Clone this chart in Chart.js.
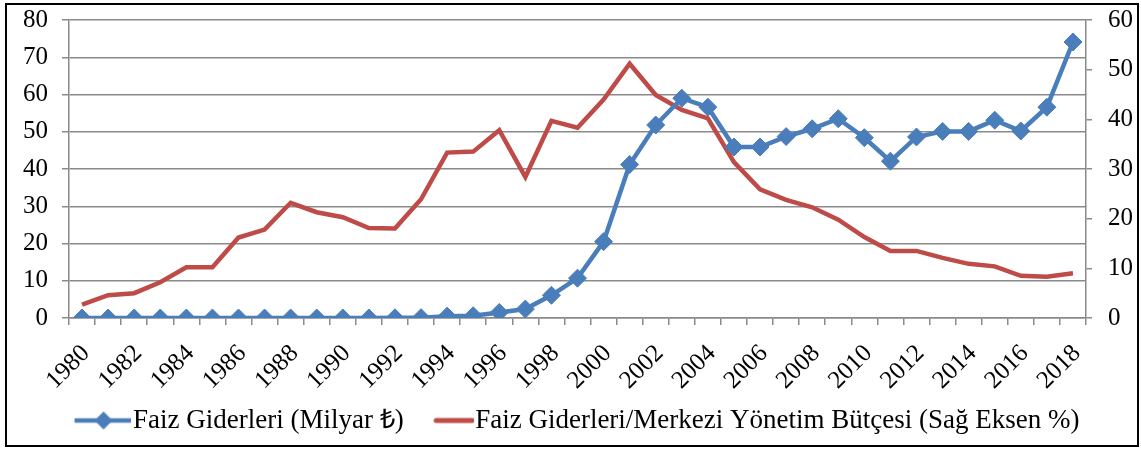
<!DOCTYPE html>
<html>
<head>
<meta charset="utf-8">
<script src="https://cdn.jsdelivr.net/npm/chart.js@4/dist/chart.umd.min.js"></script>
<style>
html,body{margin:0;padding:0;background:#fff;}
#wrap{width:1141px;height:450px;position:relative;}
</style>
</head>
<body>
<div id="wrap"><canvas id="c" width="1141" height="450"></canvas></div>
<script>
const years = [1980,1981,1982,1983,1984,1985,1986,1987,1988,1989,1990,1991,1992,1993,1994,1995,1996,1997,1998,1999,2000,2001,2002,2003,2004,2005,2006,2007,2008,2009,2010,2011,2012,2013,2014,2015,2016,2017,2018];
const faizGiderleri = [0,0,0,0,0,0,0,0,0,0,0,0,0.05,0.1,0.5,0.6,1.5,2.4,6.1,10.7,20.5,41.2,51.8,59.0,56.6,45.9,45.9,48.7,50.8,53.5,48.4,42.1,48.6,50.1,50.1,53.1,50.2,56.6,74.1];
const faizButcePay = [2.7,4.6,5.0,7.2,10.2,10.2,16.2,17.8,23.2,21.3,20.3,18.1,18.0,23.9,33.3,33.5,37.8,28.4,39.7,38.3,44.0,51.2,44.9,41.9,40.2,31.4,25.9,23.8,22.3,19.8,16.3,13.5,13.5,12.1,10.9,10.4,8.5,8.3,9.0];
const leftTicks = [0,10,20,30,40,50,60,70,80];
const rightTicks = [0,10,20,30,40,50,60];
const seriesNames = ['Faiz Giderleri (Milyar ₺)','Faiz Giderleri/Merkezi Yönetim Bütçesi (Sağ Eksen %)'];

const BLUE = '#4a7ebb';
const RED = '#be4b48';
const GRID = '#8a8a8a';
const FONT = "'Liberation Serif', 'Times New Roman', serif";

function makeIcon(w, h, draw){
  const cv = document.createElement('canvas');
  cv.width = w; cv.height = h;
  draw(cv.getContext('2d'));
  return cv;
}
const blueIcon = makeIcon(70, 22, ctx => {
  ctx.strokeStyle = BLUE; ctx.lineWidth = 4.5; ctx.lineCap = 'butt';
  ctx.beginPath(); ctx.moveTo(14, 11); ctx.lineTo(70, 11); ctx.stroke();
  ctx.fillStyle = BLUE;
  const cx = 43;
  ctx.beginPath(); ctx.moveTo(cx-9, 11); ctx.lineTo(cx, 2); ctx.lineTo(cx+9, 11); ctx.lineTo(cx, 20); ctx.closePath(); ctx.fill();
});
const redIcon = makeIcon(73, 22, ctx => {
  ctx.strokeStyle = RED; ctx.lineWidth = 5; ctx.lineCap = 'round';
  ctx.beginPath(); ctx.moveTo(35, 11); ctx.lineTo(71, 11); ctx.stroke();
});

const framePlugin = {
  id: 'frame',
  afterDraw(chart){
    const ctx = chart.ctx;
    ctx.save();
    ctx.strokeStyle = '#000';
    ctx.lineWidth = 2;
    ctx.strokeRect(6, 4, 1132, 442);
    ctx.restore();
  }
};

function fixVPad(s, w){
  s.width = w;
  s.paddingTop = 8;
  s.paddingBottom = 8;
}

new Chart(document.getElementById('c'), {
  type: 'line',
  data: {
    labels: years,
    datasets: [
      {
        label: seriesNames[0],
        data: faizGiderleri,
        yAxisID: 'y',
        borderColor: BLUE,
        backgroundColor: BLUE,
        borderWidth: 4.5,
        pointStyle: 'rectRot',
        pointRadius: 9,
        pointBorderWidth: 1,
        pointBackgroundColor: BLUE,
        pointBorderColor: BLUE,
        tension: 0,
        order: 1
      },
      {
        label: seriesNames[1],
        data: faizButcePay,
        yAxisID: 'y1',
        borderColor: RED,
        backgroundColor: RED,
        borderWidth: 4.5,
        pointRadius: 0,
        tension: 0,
        order: 2
      }
    ]
  },
  options: {
    responsive: false,
    animation: false,
    events: [],
    layout: { padding: { top: 20, left: 10, right: 0, bottom: 6 } },
    plugins: {
      tooltip: { enabled: false },
      legend: {
        position: 'bottom',
        labels: {
          usePointStyle: true,
          pointStyleWidth: 48,
          padding: 10,
          color: '#000',
          font: { family: FONT, size: 27 },
          generateLabels(chart){
            return [
              { text: seriesNames[0], pointStyle: blueIcon, fillStyle: BLUE, strokeStyle: BLUE, lineWidth: 0, datasetIndex: 0, hidden: false },
              { text: seriesNames[1], pointStyle: redIcon, fillStyle: RED, strokeStyle: RED, lineWidth: 0, datasetIndex: 1, hidden: false }
            ];
          }
        }
      }
    },
    scales: {
      x: {
        type: 'category',
        offset: true,
        grid: { offset: true, drawOnChartArea: false, drawTicks: true, tickLength: 7, color: GRID, lineWidth: 1.5 },
        border: { color: GRID, width: 1.5 },
        ticks: {
          autoSkip: false,
          minRotation: 45,
          maxRotation: 45,
          padding: 14,
          labelOffset: 4,
          color: '#000',
          font: { family: FONT, size: 25 },
          callback(v, i){ return i % 2 === 0 ? String(years[i]) : ''; }
        },
        afterFit(s){ s.height = 79; }
      },
      y: {
        position: 'left',
        min: 0, max: 80,
        afterBuildTicks(s){ s.ticks = leftTicks.map(v => ({ value: v })); },
        grid: { color: GRID, lineWidth: 1.5, tickLength: 7, drawTicks: true },
        border: { color: GRID, width: 1.5 },
        ticks: { padding: 14, color: '#000', font: { family: FONT, size: 25 } },
        afterFit(s){ fixVPad(s, 59); }
      },
      y1: {
        position: 'right',
        min: 0, max: 60,
        afterBuildTicks(s){ s.ticks = rightTicks.map(v => ({ value: v })); },
        grid: { drawOnChartArea: false, color: GRID, lineWidth: 1.5, tickLength: 6, drawTicks: true },
        border: { color: GRID, width: 1.5 },
        ticks: { padding: 16, color: '#000', font: { family: FONT, size: 25 } },
        afterFit(s){ fixVPad(s, 55); }
      }
    }
  },
  plugins: [framePlugin]
});
</script>
</body>
</html>
